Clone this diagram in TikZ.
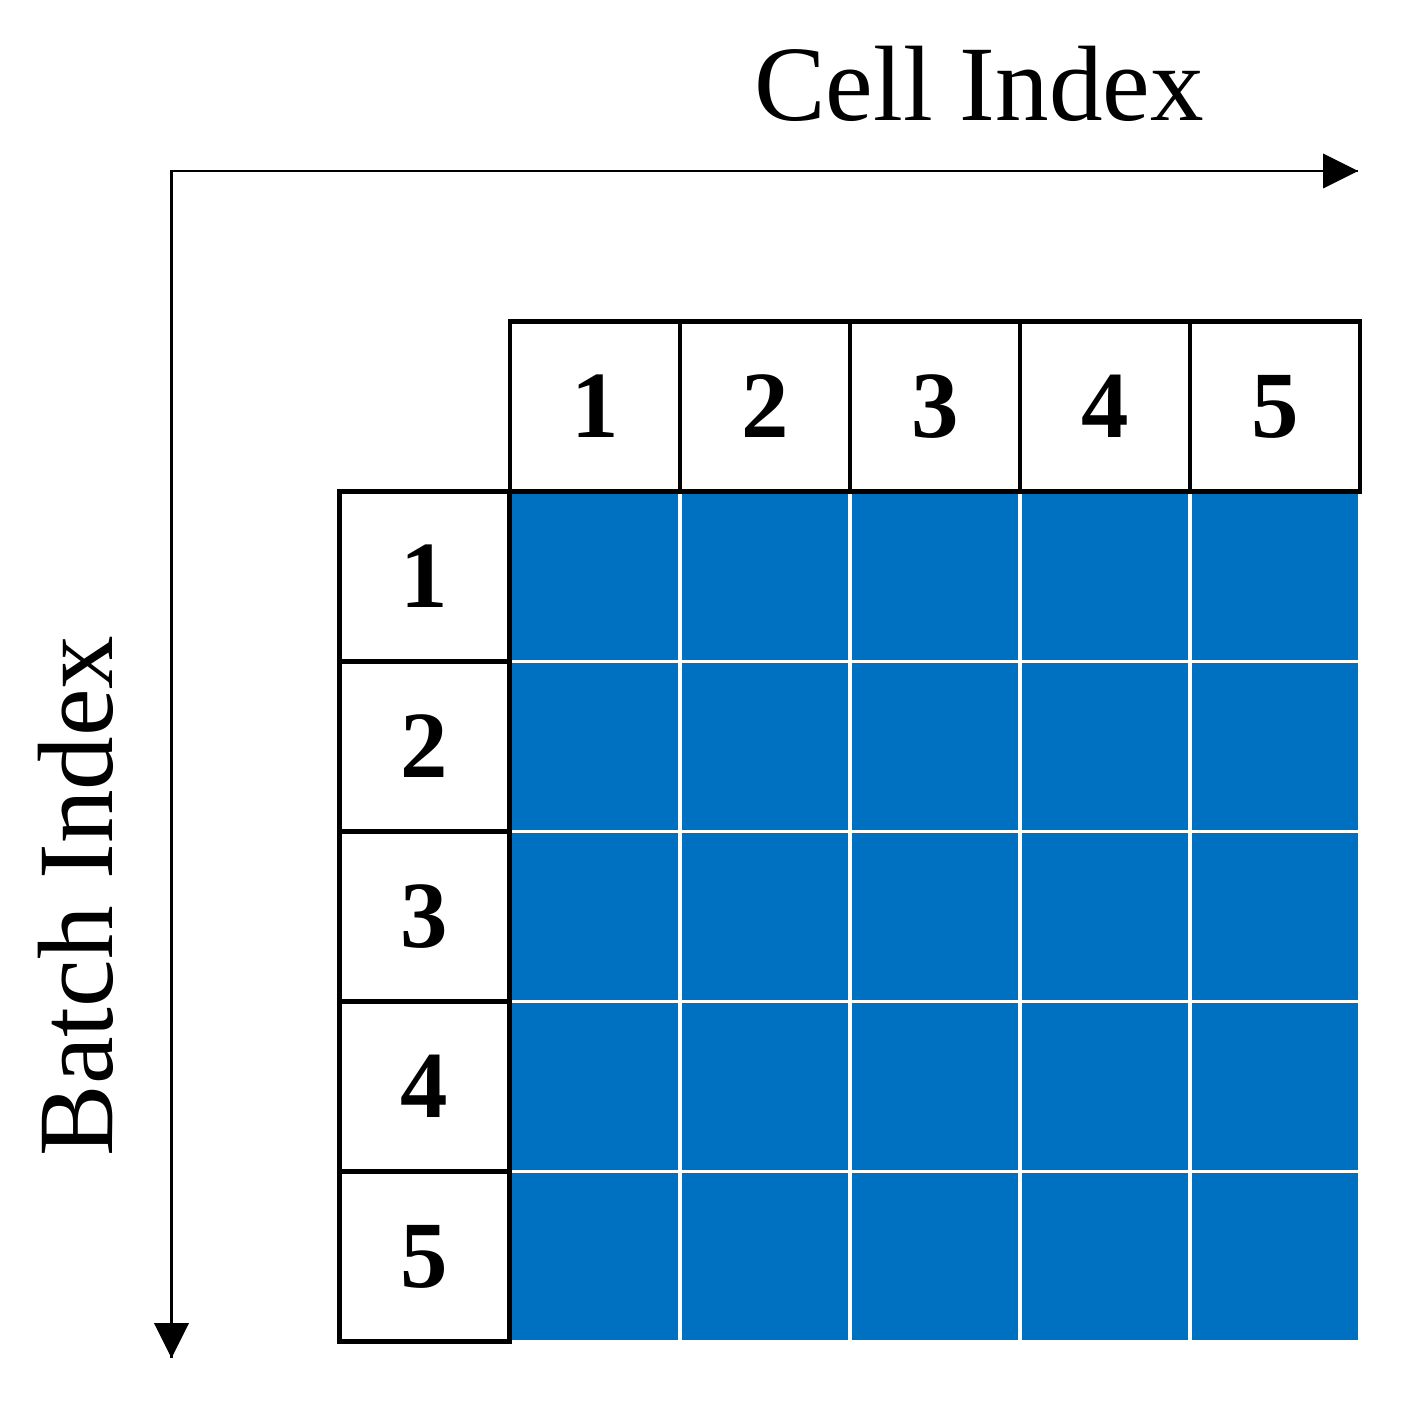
\documentclass[tikz,border=0pt]{standalone}
\usepackage{fontspec}
\setmainfont{Liberation Serif}
\usepackage{xcolor}
\definecolor{cellblue}{HTML}{0070C0}

\begin{document}
\begin{tikzpicture}[scale=0.1]
	\tikzstyle{every node}+=[inner sep=0pt]
	\tikzstyle{idxbox}=[draw=black, line width=1.3pt, fill=white, minimum size=1.7cm, font=\fontsize{27}{27}\selectfont\bfseries]
	\tikzstyle{blue cell}=[fill=cellblue, minimum size=1.665cm]
	\tikzstyle{axis title}=[font=\fontsize{30.5}{30.5}\selectfont, anchor=base]
	\useasboundingbox (0,0) rectangle (141.5,-142.3);
	% blue cells
	\node [blue cell] (g11) at (59.5,-57.65) {};
	\node [blue cell] (g12) at (76.5,-57.65) {};
	\node [blue cell] (g13) at (93.5,-57.65) {};
	\node [blue cell] (g14) at (110.5,-57.65) {};
	\node [blue cell] (g15) at (127.5,-57.65) {};
	\node [blue cell] (g21) at (59.5,-74.65) {};
	\node [blue cell] (g22) at (76.5,-74.65) {};
	\node [blue cell] (g23) at (93.5,-74.65) {};
	\node [blue cell] (g24) at (110.5,-74.65) {};
	\node [blue cell] (g25) at (127.5,-74.65) {};
	\node [blue cell] (g31) at (59.5,-91.65) {};
	\node [blue cell] (g32) at (76.5,-91.65) {};
	\node [blue cell] (g33) at (93.5,-91.65) {};
	\node [blue cell] (g34) at (110.5,-91.65) {};
	\node [blue cell] (g35) at (127.5,-91.65) {};
	\node [blue cell] (g41) at (59.5,-108.65) {};
	\node [blue cell] (g42) at (76.5,-108.65) {};
	\node [blue cell] (g43) at (93.5,-108.65) {};
	\node [blue cell] (g44) at (110.5,-108.65) {};
	\node [blue cell] (g45) at (127.5,-108.65) {};
	\node [blue cell] (g51) at (59.5,-125.65) {};
	\node [blue cell] (g52) at (76.5,-125.65) {};
	\node [blue cell] (g53) at (93.5,-125.65) {};
	\node [blue cell] (g54) at (110.5,-125.65) {};
	\node [blue cell] (g55) at (127.5,-125.65) {};
	% cell index boxes
	\node [idxbox] (c1) at (59.5,-40.65) {1};
	\node [idxbox] (c2) at (76.5,-40.65) {2};
	\node [idxbox] (c3) at (93.5,-40.65) {3};
	\node [idxbox] (c4) at (110.5,-40.65) {4};
	\node [idxbox] (c5) at (127.5,-40.65) {5};
	% batch index boxes
	\node [idxbox] (b1) at (42.45,-57.65) {1};
	\node [idxbox] (b2) at (42.45,-74.65) {2};
	\node [idxbox] (b3) at (42.45,-91.65) {3};
	\node [idxbox] (b4) at (42.45,-108.65) {4};
	\node [idxbox] (b5) at (42.45,-125.65) {5};
	% axes
	\coordinate (corner) at (17.15,-17.1);
	\coordinate (cellend) at (135.8,-17.1);
	\coordinate (batchend) at (17.15,-135.8);
	\draw [black, line width=0.75pt] (batchend) -- (corner) -- (cellend);
	\fill [black] (cellend) -- ++(-3.5,1.75) -- ++(0,-3.5) -- cycle;
	\fill [black] (batchend) -- ++(-1.75,3.5) -- ++(3.5,0) -- cycle;
	\node [axis title] (celltitle) at (97.9,-12.1) {Cell Index};
	\node [axis title, rotate=90] (batchtitle) at (11.2,-89.6) {Batch Index};
\end{tikzpicture}
\end{document}
